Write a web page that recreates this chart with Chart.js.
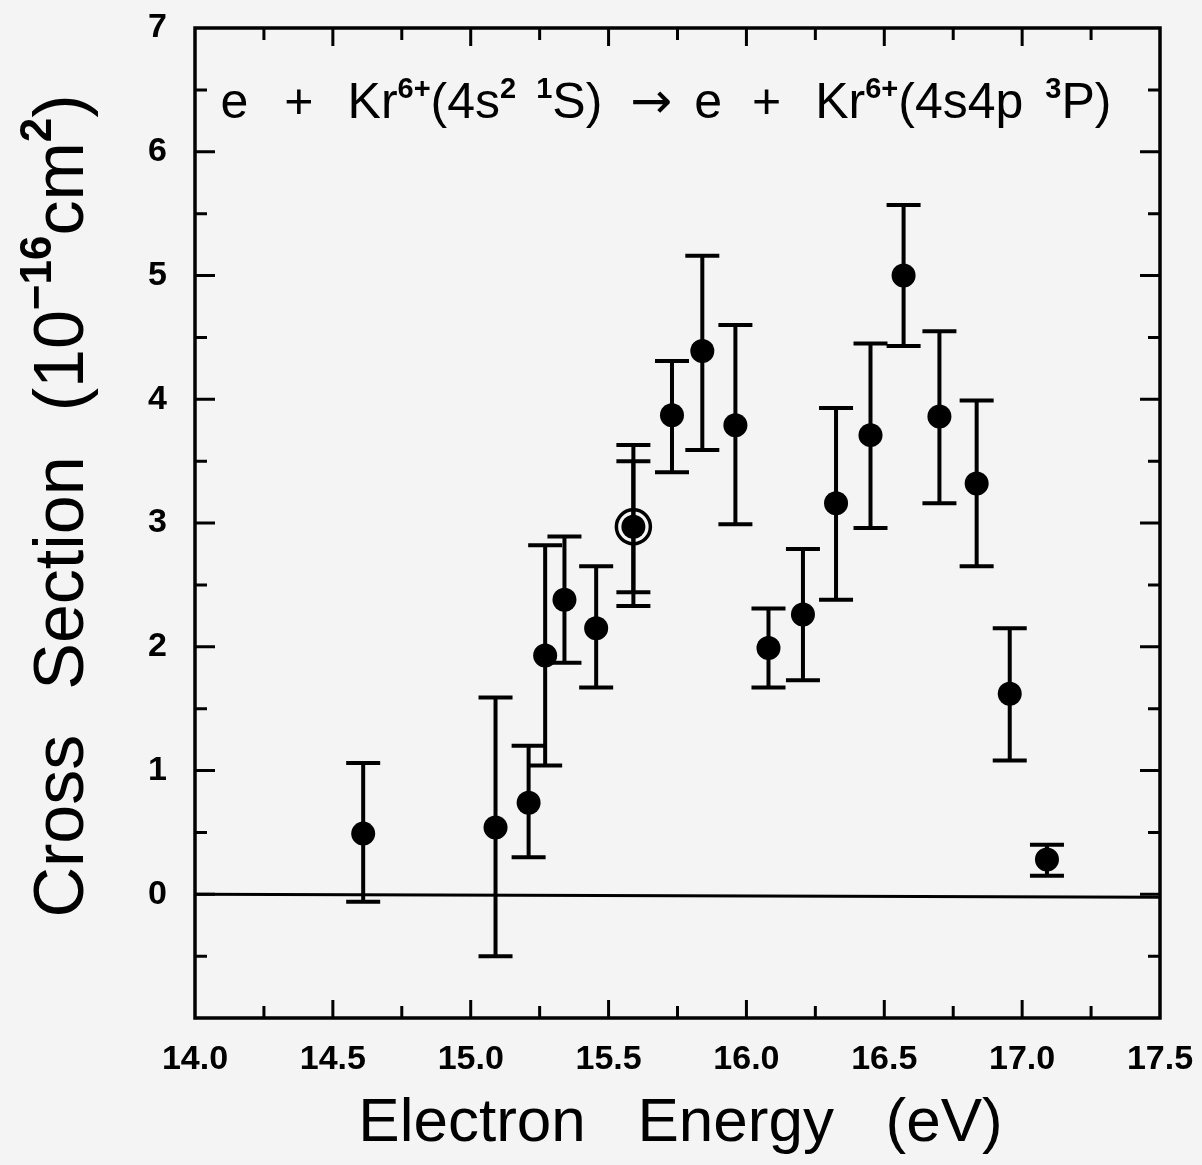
<!DOCTYPE html>
<html>
<head>
<meta charset="utf-8">
<script src="https://cdn.jsdelivr.net/npm/chart.js@4.4.0/dist/chart.umd.min.js"></script>
<style>
  html, body { margin: 0; padding: 0; background: #f4f4f4; }
  #wrap { width: 1202px; height: 1165px; }
</style>
</head>
<body>
<div id="wrap"><canvas id="chart" width="1202" height="1165"></canvas></div>
<script>
const energy  = [14.61, 15.09, 15.21, 15.27, 15.34, 15.455, 15.59, 15.73, 15.84, 15.96, 16.08, 16.205, 16.325, 16.45, 16.57, 16.70, 16.835, 16.955, 17.09];
const sigma   = [0.49, 0.54, 0.74, 1.93, 2.38, 2.15, 2.97, 3.87, 4.39, 3.79, 1.99, 2.26, 3.16, 3.71, 5.00, 3.86, 3.32, 1.62, 0.28];
const errHigh = [1.06, 1.59, 1.20, 2.82, 2.89, 2.65, 3.63, 4.31, 5.16, 4.60, 2.31, 2.79, 3.93, 4.45, 5.57, 4.55, 3.99, 2.15, 0.40];
const errLow  = [-0.06, -0.50, 0.30, 1.04, 1.87, 1.67, 2.33, 3.41, 3.59, 2.99, 1.67, 1.73, 2.38, 2.96, 4.43, 3.16, 2.65, 1.08, 0.15];

// the circled point has a second, inner error bar
const circledEnergy = [15.59];
const circledSigma  = [2.97];
const circledHigh   = [3.50];
const circledLow    = [2.44];

const xMin = 14.0, xMax = 17.5, yMin = -1, yMax = 7;

const INK = '#000';
const SANS = '"Liberation Sans", Arial, sans-serif';
const ARROW_FONT = '"DejaVu Sans", sans-serif';

// text with superscripts; a segment is a number (gap in px) or [text, isSup, family?]
function drawRich(ctx, segs, x, y, size, supSize, supRise) {
    const fontOf = s => (s[1] ? 'bold ' + supSize : size) + 'px ' + (s[2] || SANS);
    const widthOf = s => {
        if (typeof s === 'number') return s;
        ctx.font = fontOf(s);
        return ctx.measureText(s[0]).width;
    };
    const total = segs.reduce((t, s) => t + widthOf(s), 0);
    let cx = x - total / 2;
    segs.forEach(s => {
        if (typeof s !== 'number') {
            ctx.font = fontOf(s);
            ctx.fillText(s[0], cx, s[1] ? y - supRise : y);
        }
        cx += widthOf(s);
    });
}

const errorBars = {
    id: 'errorBars',
    beforeDatasetsDraw(chart) {
        const { ctx, scales: { x, y } } = chart;
        ctx.save();
        ctx.strokeStyle = INK;
        ctx.lineWidth = 4;
        const bar = (ex, lo, hi) => {
            const px = x.getPixelForValue(ex);
            const pl = y.getPixelForValue(lo);
            const ph = y.getPixelForValue(hi);
            ctx.beginPath();
            ctx.moveTo(px, pl); ctx.lineTo(px, ph);
            ctx.moveTo(px - 17, pl); ctx.lineTo(px + 17, pl);
            ctx.moveTo(px - 17, ph); ctx.lineTo(px + 17, ph);
            ctx.stroke();
        };
        energy.forEach((e, i) => bar(e, errLow[i], errHigh[i]));
        circledEnergy.forEach((e, i) => bar(e, circledLow[i], circledHigh[i]));

        // zero line (slightly tilted, as in the scan)
        const y0 = y.getPixelForValue(0);
        ctx.lineWidth = 3;
        ctx.beginPath();
        ctx.moveTo(chart.chartArea.left, y0);
        ctx.lineTo(chart.chartArea.right, y0 + 3);
        ctx.stroke();
        ctx.restore();
    }
};

const frameAndTicks = {
    id: 'frameAndTicks',
    afterDraw(chart) {
        const { ctx, chartArea: a, scales: { x, y } } = chart;
        ctx.save();
        ctx.strokeStyle = INK;
        ctx.lineWidth = 3.5;
        ctx.strokeRect(a.left, a.top, a.right - a.left, a.bottom - a.top);

        ctx.lineWidth = 3;
        ctx.beginPath();
        for (let v = xMin + 0.25; v < xMax - 0.01; v += 0.25) {
            const px = x.getPixelForValue(v);
            const len = Math.abs(v * 2 - Math.round(v * 2)) < 1e-6 ? 18 : 12;
            ctx.moveTo(px, a.bottom); ctx.lineTo(px, a.bottom - len);
            ctx.moveTo(px, a.top); ctx.lineTo(px, a.top + len);
        }
        for (let v = yMin + 0.5; v < yMax - 0.01; v += 0.5) {
            const py = y.getPixelForValue(v);
            const len = Math.abs(v - Math.round(v)) < 1e-6 ? 20 : 12;
            ctx.moveTo(a.left, py); ctx.lineTo(a.left + len, py);
            ctx.moveTo(a.right, py); ctx.lineTo(a.right - len, py);
        }
        ctx.stroke();

        ctx.fillStyle = INK;
        ctx.textBaseline = 'alphabetic';
        ctx.textAlign = 'left';

        // reaction label inside the frame
        drawRich(ctx, [
            ['e'], 36, ['+'], 34, ['Kr'], ['6+', true], ['(4s'], ['2', true], 20, ['1', true], ['S)'],
            28, ['\u2192', false, ARROW_FONT], 22, ['e'], 30, ['+'], 34, ['Kr'], ['6+', true],
            ['(4s4p'], 22, ['3', true], ['P)']
        ], 666, 118, 50, 29, 20);

        // x title
        ctx.save();
        ctx.font = '62px ' + SANS;
        ctx.textAlign = 'center';
        ctx.fillText('Electron   Energy   (eV)', (a.left + a.right) / 2 + 3, 1141);
        ctx.restore();

        // y title, rotated
        ctx.save();
        ctx.translate(83, 506);
        ctx.rotate(-Math.PI / 2);
        drawRich(ctx, [
            ['Cross'], 45, ['Section'], 45, ['(10'], ['\u221216', true], ['cm'], ['2', true], [')']
        ], 0, 0, 70, 44, 32);
        ctx.restore();
        ctx.restore();
    }
};

new Chart(document.getElementById('chart'), {
    type: 'scatter',
    data: {
        datasets: [
            {
                label: 'Cross section',
                data: energy.map((e, i) => ({ x: e, y: sigma[i] })),
                backgroundColor: INK,
                borderColor: INK,
                pointRadius: 12,
                pointHoverRadius: 12,
                borderWidth: 0
            },
            {
                label: 'Circled',
                data: circledEnergy.map((e, i) => ({ x: e, y: circledSigma[i] })),
                backgroundColor: 'rgba(0,0,0,0)',
                borderColor: INK,
                pointRadius: 17,
                pointHoverRadius: 17,
                borderWidth: 3.5
            }
        ]
    },
    options: {
        responsive: false,
        animation: false,
        events: [],
        layout: { padding: { top: 28, right: 42, left: 0, bottom: 0 } },
        plugins: {
            legend: { display: false },
            tooltip: { enabled: false }
        },
        scales: {
            x: {
                type: 'linear',
                min: xMin,
                max: xMax,
                grid: { display: false },
                border: { display: false },
                ticks: {
                    stepSize: 0.5,
                    color: INK,
                    padding: 13,
                    font: { family: SANS, size: 34, weight: 'bold' },
                    callback: v => v.toFixed(1)
                },
                afterFit: s => { s.height = 147; s.paddingLeft = 0; s.paddingRight = 0; }
            },
            y: {
                min: yMin,
                max: yMax,
                grid: { display: false },
                border: { display: false },
                ticks: {
                    stepSize: 1,
                    color: INK,
                    padding: 20,
                    font: { family: SANS, size: 34, weight: 'bold' },
                    callback: v => (v < 0 ? '' : String(v))
                },
                afterFit: s => { s.width = 195; s.paddingTop = 0; s.paddingBottom = 0; }
            }
        }
    },
    plugins: [errorBars, frameAndTicks]
});
</script>
</body>
</html>
